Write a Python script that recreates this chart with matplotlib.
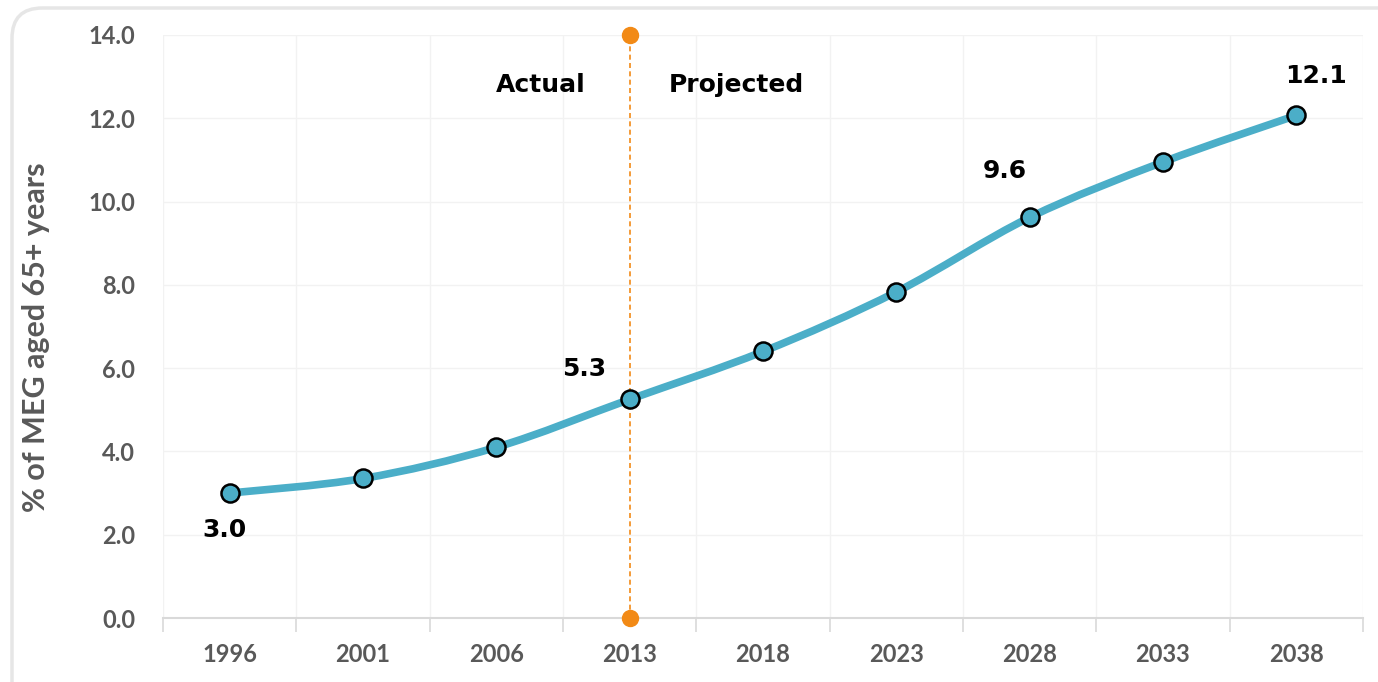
import numpy as np
import matplotlib.pyplot as plt
from matplotlib.path import Path
from matplotlib.patches import PathPatch, FancyBboxPatch

plt.rcParams['font.family'] = ['Lato', 'DejaVu Sans']

years = ['1996', '2001', '2006', '2013', '2018', '2023', '2028', '2033', '2038']
share_65 = [3.0, 3.35, 4.1, 5.25, 6.4, 7.83, 9.62, 10.95, 12.07]
labelled = {0: '3.0', 3: '5.3', 6: '9.6', 8: '12.1'}
split_year = '2013'

line_col = '#4BAEC8'
orange = '#F28A16'
grey = '#595959'

fig = plt.figure(figsize=(13.78, 6.82), dpi=100)
ax = fig.add_axes([163/1378, 1 - 618/682, 1200/1378, 583/682])

# rounded frame around the chart
frame = FancyBboxPatch((12/1378, -0.1), 1.2, 1.1 - 8/682,
                       boxstyle='round,pad=0,rounding_size=0.022',
                       transform=fig.transFigure, fc='none', ec='#E6E6E6', lw=2.5,
                       mutation_aspect=1378/682)
fig.patches.append(frame)

x = np.arange(len(years))
y = np.array(share_65)

# smoothed line (Catmull-Rom as cubic bezier), like Excel's smoothed line
verts = [(x[0], y[0])]
codes = [Path.MOVETO]
t = 1/6
for i in range(len(x) - 1):
    p0 = (x[max(i-1, 0)], y[max(i-1, 0)])
    p1 = (x[i], y[i])
    p2 = (x[i+1], y[i+1])
    p3 = (x[min(i+2, len(x)-1)], y[min(i+2, len(x)-1)])
    c1 = (p1[0] + (p2[0]-p0[0])*t, p1[1] + (p2[1]-p0[1])*t)
    c2 = (p2[0] - (p3[0]-p1[0])*t, p2[1] - (p3[1]-p1[1])*t)
    verts += [c1, c2, p2]
    codes += [Path.CURVE4]*3
ax.add_patch(PathPatch(Path(verts, codes), fc='none', ec=line_col, lw=5.5,
                       capstyle='round', zorder=3))
ax.plot(x, y, ls='none', marker='o', ms=13, mfc=line_col, mec='black', mew=1.8, zorder=4)

# actual / projected divider
xs = years.index(split_year)
ax.plot([xs, xs], [0, 14], ls=(0, (3, 2)), color=orange, lw=1.2, zorder=2)
ax.plot([xs, xs], [0, 14], ls='none', marker='o', ms=11.5, color=orange, clip_on=False, zorder=5)
bold = dict(family='DejaVu Sans', fontsize=18, fontweight='bold', ha='center', va='baseline')
ax.text(2.33, 12.63, 'Actual', **bold)
ax.text(3.8, 12.63, 'Projected', **bold)

label_pos = {0: (-0.04, 1.95), 3: (2.66, 5.81), 6: (5.81, 10.57), 8: (8.15, 12.85)}
for i, txt in labelled.items():
    ax.text(*label_pos[i], txt, **bold)

ax.set_xlim(-0.5, len(years) - 0.5)
ax.set_ylim(0, 14)
ax.set_yticks(np.arange(0, 14.1, 2))
ax.set_yticklabels([f'{v:.1f}' for v in np.arange(0, 14.1, 2)])
ax.set_xticks(x)
ax.set_xticklabels(years)
ax.set_xticks(np.arange(-0.5, len(years), 1), minor=True)
ax.tick_params(axis='x', which='major', length=0, pad=18, labelsize=17, labelcolor=grey)
ax.tick_params(axis='x', which='minor', length=10, color='#D9D9D9', width=1.2)
ax.tick_params(axis='y', length=0, pad=20, labelsize=17, labelcolor=grey)
for lab in ax.get_xticklabels() + ax.get_yticklabels():
    lab.set_fontweight('bold')
ax.grid(axis='y', color='#F2F2F2', lw=1)
ax.grid(axis='x', which='minor', color='#F2F2F2', lw=1)
for s in ['top', 'right', 'left']:
    ax.spines[s].set_visible(False)
ax.spines['bottom'].set_color('#D9D9D9')
ax.spines['bottom'].set_linewidth(1.5)
ax.set_ylabel('% of MEG aged 65+ years', fontsize=22, fontweight='bold', color=grey)
ax.yaxis.set_label_coords(-0.094, 0.482)

fig.savefig('out.png', dpi=100)
